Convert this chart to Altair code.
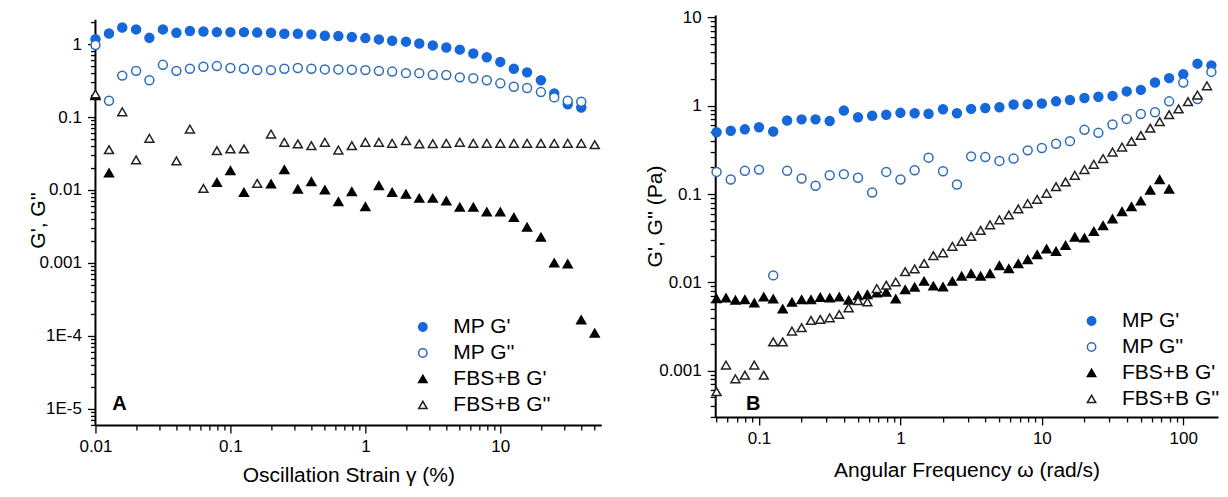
import altair as alt
import pandas as pd

FONT = "Liberation Sans"
BLUE = "#1667d9"
BLUE_OPEN = "#2c6cb8"
SERIES = ["MP G'", "MP G''", "FBS+B G'", "FBS+B G''"]

# ---------------- Panel A : strain sweep ----------------
STRAIN = [0.01, 0.0126, 0.0158, 0.02, 0.0251, 0.0316, 0.0398, 0.0501, 0.0631, 0.0794,
          0.1, 0.126, 0.158, 0.2, 0.251, 0.316, 0.398, 0.501, 0.631, 0.794,
          1.0, 1.26, 1.58, 2.0, 2.51, 3.16, 3.98, 5.01, 6.31, 7.94,
          10, 12.6, 15.8, 20, 25.1, 31.6, 39.8, 50.1]
A_MP_GP = [1.17, 1.40, 1.69, 1.59, 1.22, 1.59, 1.43, 1.51, 1.49, 1.46,
           1.46, 1.46, 1.44, 1.43, 1.39, 1.39, 1.36, 1.30, 1.29, 1.25,
           1.21, 1.16, 1.11, 1.08, 1.02, 0.96, 0.90, 0.84, 0.745, 0.66,
           0.57, 0.46, 0.41, 0.32, 0.21, 0.15, 0.135]
A_MP_GPP = [0.97, 0.167, 0.37, 0.43, 0.32, 0.52, 0.43, 0.46, 0.49, 0.50,
            0.47, 0.46, 0.44, 0.44, 0.46, 0.47, 0.46, 0.45, 0.45, 0.445,
            0.44, 0.43, 0.42, 0.40, 0.40, 0.38, 0.377, 0.35, 0.34, 0.32,
            0.29, 0.26, 0.25, 0.22, 0.186, 0.167, 0.162]
A_FBS_GP = [0.196, 0.0171, None, None, None, None, None, None, None, 0.0127,
            0.0184, 0.0093, None, 0.0121, 0.019, 0.0103, 0.013, 0.0100, 0.0069, 0.0095,
            0.0059, 0.0115, 0.0093, 0.0088, 0.0077, 0.0077, 0.0071, 0.0058, 0.0058, 0.0050,
            0.0050, 0.0042, 0.0031, 0.00225, 0.00100, 0.00097, 0.000166, 0.000109]
A_FBS_GPP = [0.207, 0.0357, 0.118, 0.0258, 0.051, None, 0.025, 0.0685, 0.0105, 0.0346,
             0.0365, 0.0365, 0.0123, 0.0585, 0.045, 0.0427, 0.0405, 0.045, 0.0353, 0.0405,
             0.045, 0.045, 0.0437, 0.0474, 0.0427, 0.0432, 0.0437, 0.045, 0.0437, 0.0437,
             0.0437, 0.0437, 0.0437, 0.0437, 0.0437, 0.0437, 0.0437, 0.0418]

# ---------------- Panel B : frequency sweep ----------------
FREQ_MP = [0.0501, 0.0631, 0.0794, 0.1, 0.126, 0.158, 0.2, 0.251, 0.316, 0.398,
           0.501, 0.631, 0.794, 1.0, 1.26, 1.58, 2.0, 2.51, 3.16, 3.98,
           5.01, 6.31, 7.94, 10, 12.6, 15.8, 20, 25.1, 31.6, 39.8,
           50.1, 63.1, 79.4, 100, 126, 158]
B_MP_GP = [0.50, 0.52, 0.54, 0.57, 0.51, 0.68, 0.70, 0.70, 0.67, 0.88,
           0.74, 0.77, 0.79, 0.83, 0.82, 0.81, 0.91, 0.82, 0.92, 0.94,
           0.96, 1.03, 1.04, 1.06, 1.12, 1.16, 1.22, 1.26, 1.29, 1.45,
           1.51, 1.83, 2.05, 2.27, 2.99, 2.86]
B_MP_GPP = [0.178, 0.146, 0.183, 0.189, 0.012, 0.183, 0.15, 0.124, 0.163, 0.168,
            0.153, 0.104, 0.178, 0.146, 0.186, 0.258, 0.181, 0.128, 0.267, 0.262,
            0.237, 0.252, 0.312, 0.332, 0.371, 0.397, 0.533, 0.493, 0.612, 0.708,
            0.806, 0.842, 1.12, 1.83, 1.19, 2.41]
FREQ_FBS = [0.0501, 0.0584, 0.0681, 0.0794, 0.0926, 0.108, 0.126, 0.147, 0.171, 0.2,
            0.233, 0.271, 0.316, 0.369, 0.43, 0.501, 0.584, 0.681, 0.794, 0.926,
            1.08, 1.26, 1.47, 1.71, 2.0, 2.33, 2.71, 3.16, 3.69, 4.3,
            5.01, 5.84, 6.81, 7.94, 9.26, 10.8, 12.6, 14.7, 17.1, 20.0,
            23.3, 27.1, 31.6, 36.9, 43.0, 50.1, 58.4, 68.1, 79.4, 92.6,
            108, 126, 147]
B_FBS_GP = [0.00655, 0.00667, 0.00628, 0.00638, 0.00586, 0.00685, 0.0065, 0.00501, 0.00596, 0.00638,
            0.00638, 0.00678, 0.00667, 0.00685, 0.00628, 0.00708, 0.00727, 0.00759, 0.00778, 0.0065,
            0.00827, 0.00885, 0.0103, 0.0091, 0.0089, 0.0103, 0.0118, 0.0126, 0.0118, 0.0126,
            0.0155, 0.0143, 0.0163, 0.0181, 0.0206, 0.0239, 0.0225, 0.0262, 0.0326, 0.0318,
            0.0377, 0.044, 0.0524, 0.0633, 0.072, 0.0834, 0.111, 0.146, 0.114]
B_FBS_GPP = [0.00058, 0.00116, 0.00081, 0.00089, 0.00116, 0.00089, 0.00212, 0.00212, 0.00281, 0.00307,
             0.00371, 0.00381, 0.00397, 0.00433, 0.00515, 0.0062, 0.006, 0.0085, 0.0093, 0.0101,
             0.0132, 0.0142, 0.0164, 0.0201, 0.0216, 0.0256, 0.0291, 0.0331, 0.0387, 0.0449,
             0.051, 0.058, 0.0678, 0.078, 0.087, 0.102, 0.121, 0.137, 0.163, 0.189,
             0.217, 0.252, 0.299, 0.34, 0.394, 0.46, 0.556, 0.66, 0.79, 0.918,
             1.11, 1.32, 1.68]

# axis ranges (A's y-axis line is drawn only up to A_Y_LINE_TOP, as in the original)
A_X_RANGE = [0.01, 56]
A_Y_RANGE = [6e-6, 2.5]
A_Y_LINE_TOP = 2.15
B_X_RANGE = [0.049, 176]
B_Y_RANGE = [0.0003, 10.6]


def build(pairs):
    rows = []
    for i, (xs, ys) in enumerate(pairs):
        for x, y in zip(xs, ys):
            if y is not None:
                rows.append({"x": x, "y": y, "series": SERIES[i], "ord": i})
    return pd.DataFrame(rows)


def log_ticks(lo, hi):
    out = []
    for e in range(-7, 4):
        for m in range(1, 10):
            v = float(f"{m}e{e}")
            if lo * 0.999 <= v <= hi * 1.001:
                out.append(v)
    return out


MAJOR = "abs(log(datum.value)/LN10 - round(log(datum.value)/LN10)) < 0.001"
LABEL = (f"({MAJOR}) ? (datum.value >= 0.0009 ? format(datum.value, '~g') : "
         "'1E-' + round(-log(datum.value)/LN10)) : ''")


def make_axis(ticks, title, extent, title_pad, orient, domain=True):
    return alt.Axis(
        values=ticks, labelExpr=LABEL, title=title, grid=False, domain=domain,
        tickSize={"condition": {"test": MAJOR, "value": 8}, "value": 5},
        tickColor="black", tickWidth=1.3, domainColor="black", domainWidth=2,
        labelFont=FONT, labelFontSize=17, labelColor="black", labelPadding=6,
        labelOverlap=False, labelFlush=False,
        titleFont=FONT, titleFontSize=21, titleFontWeight="normal", titleColor="black",
        titlePadding=title_pad, minExtent=extent, maxExtent=extent, orient=orient,
    )


def panel(df, xdom, ydom, xtitle, ytitle, w, h, legxy, letter, letter_xy,
          yext, xpad, yline=None):
    legend = alt.Legend(
        title=None, orient="none", legendX=legxy[0], legendY=legxy[1],
        labelFont=FONT, labelFontSize=21, labelColor="black", symbolSize=70,
        symbolStrokeWidth=1.5, rowPadding=4, labelOffset=20, padding=0,
    )
    yscale = alt.Scale(type="log", domain=ydom, nice=False)
    yticks = [v for v in log_ticks(*ydom) if yline is None or v <= yline[1]]
    pts = alt.Chart(df).mark_point(filled=True, opacity=1, size=80, strokeWidth=1.5).encode(
        x=alt.X("x:Q", scale=alt.Scale(type="log", domain=xdom, nice=False),
                axis=make_axis(log_ticks(*xdom), xtitle, 31, xpad, "bottom")),
        y=alt.Y("y:Q", scale=yscale,
                axis=make_axis(yticks, ytitle, yext, 0, "left", domain=yline is None)),
        shape=alt.Shape("series:N", scale=alt.Scale(
            domain=SERIES, range=["circle", "circle", "triangle-up", "triangle-up"]), legend=legend),
        fill=alt.Fill("series:N", scale=alt.Scale(
            domain=SERIES, range=[BLUE, "white", "black", "white"]), legend=legend),
        stroke=alt.Stroke("series:N", scale=alt.Scale(
            domain=SERIES, range=[BLUE, BLUE_OPEN, "black", "#222222"]), legend=legend),
        order=alt.Order("ord:Q"),
    )
    lab = alt.Chart(pd.DataFrame({"t": [letter]})).mark_text(
        font=FONT, fontSize=20, fontWeight="bold", color="black", align="center", baseline="middle"
    ).encode(x=alt.value(letter_xy[0]), y=alt.value(letter_xy[1]), text="t:N")
    layers = [pts, lab]
    if yline is not None:
        axis_line = alt.Chart(pd.DataFrame({"lo": [yline[0]], "hi": [yline[1]]})).mark_rule(
            color="black", strokeWidth=2
        ).encode(x=alt.value(0), y=alt.Y("hi:Q", scale=yscale), y2="lo:Q")
        layers.insert(0, axis_line)
    return alt.layer(*layers).properties(width=w, height=h)


dfA = build([(STRAIN, A_MP_GP), (STRAIN, A_MP_GPP), (STRAIN, A_FBS_GP), (STRAIN, A_FBS_GPP)])
dfB = build([(FREQ_MP, B_MP_GP), (FREQ_MP, B_MP_GPP), (FREQ_FBS, B_FBS_GP), (FREQ_FBS, B_FBS_GPP)])

panelA = panel(dfA, A_X_RANGE, A_Y_RANGE, "Oscillation Strain γ (%)", "G', G''",
               506, 410, (317, 301.5), "A", (24, 389), 47, 9,
               yline=(A_Y_RANGE[0], A_Y_LINE_TOP))
panelB = panel(dfB, B_X_RANGE, B_Y_RANGE, "Angular Frequency ω (rad/s)", "G', G'' (Pa)",
               503, 402, (366, 295.5), "B", (38, 389), 49.5, 12)

chart = alt.hconcat(panelA, panelB, spacing=42).properties(
    padding={"left": 19.5, "top": 0, "right": 0, "bottom": 0}
).configure_view(stroke=None).resolve_scale(shape="independent", fill="independent", stroke="independent")

chart.save("out.html", embed_options={"renderer": "svg", "actions": False})
